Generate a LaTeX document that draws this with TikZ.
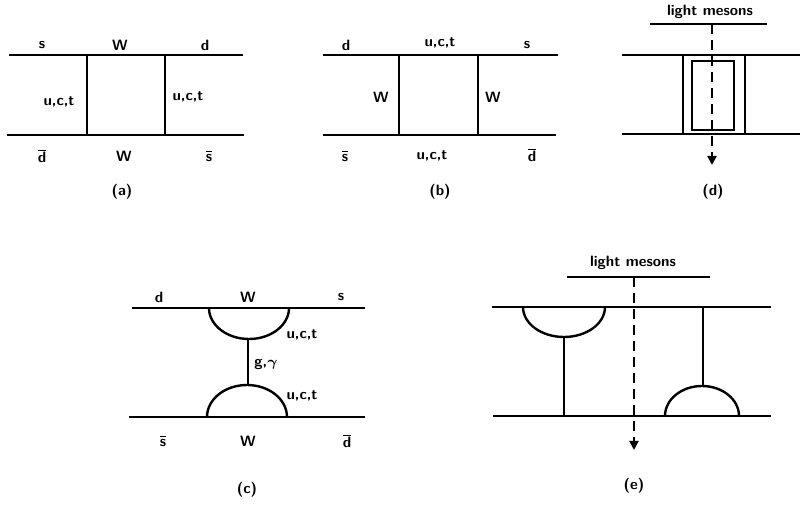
\documentclass[tikz,border=0pt]{standalone}
\usepackage{tikz}
\usepackage{amsmath}
\usetikzlibrary{arrows.meta, positioning, calc}

\newcommand{\qbar}[1]{$\overline{\mbox{#1}}$}

\begin{document}
\begin{tikzpicture}[x=0.5pt, y=-0.5pt,
    font=\sffamily\bfseries\fontsize{7.5}{9}\selectfont,
    quark/.style={line width=1.2pt},
    prop/.style={line width=0.8pt},
    blob/.style={line width=1.2pt},
    lbl/.style={inner sep=1pt},
    meson/.style={line width=1pt, dashed, dash pattern=on 5pt off 3pt,
      -{Triangle[width=4.5pt, length=4.5pt]}}]
  \useasboundingbox (0,0) rectangle (800,508);

  % (a) box diagram, W exchange
  \coordinate (a-tl) at (9,55);   \coordinate (a-tr) at (243,55);
  \coordinate (a-bl) at (7,135);  \coordinate (a-br) at (244,135);
  \coordinate (a-v1) at (87,55);  \coordinate (a-v2) at (87,135);
  \coordinate (a-v3) at (165,55); \coordinate (a-v4) at (165,135);
  \draw[quark] (a-tl) -- (a-tr);
  \draw[quark] (a-bl) -- (a-br);
  \draw[prop] (a-v1) -- (a-v2);
  \draw[prop, line width=1.1pt] (a-v3) -- (a-v4);
  \node[lbl] (a-s) at (42,45) {s};
  \node[lbl] (a-W1) at (120,45) {W};
  \node[lbl] (a-d) at (205,45) {d};
  \node[lbl] (a-q1) at (59,102) {u,c,t};
  \node[lbl] (a-q2) at (188,97) {u,c,t};
  \node[lbl] (a-db) at (42,156) {\qbar{d}};
  \node[lbl] (a-W2) at (124,156) {W};
  \node[lbl] (a-sb) at (209,156) {\qbar{s}};
  \node[lbl] (a-cap) at (122,192) {(a)};

  % (b) box diagram, quark exchange
  \coordinate (b-tl) at (323,55);  \coordinate (b-tr) at (558,55);
  \coordinate (b-bl) at (323,135); \coordinate (b-br) at (556,135);
  \coordinate (b-v1) at (399,55);  \coordinate (b-v2) at (399,135);
  \coordinate (b-v3) at (478,55);  \coordinate (b-v4) at (478,135);
  \draw[quark] (b-tl) -- (b-tr);
  \draw[quark] (b-bl) -- (b-br);
  \draw[prop] (b-v1) -- (b-v2);
  \draw[prop] (b-v3) -- (b-v4);
  \node[lbl] (b-d) at (346,45) {d};
  \node[lbl] (b-q1) at (440,43) {u,c,t};
  \node[lbl] (b-s) at (527,45) {s};
  \node[lbl] (b-W1) at (381,97) {W};
  \node[lbl] (b-W2) at (493,97) {W};
  \node[lbl] (b-sb) at (345,156) {\qbar{s}};
  \node[lbl] (b-q2) at (432,156) {u,c,t};
  \node[lbl] (b-db) at (532,155) {\qbar{d}};
  \node[lbl] (b-cap) at (440,192) {(b)};

  % (d) light meson cut
  \coordinate (d-tl) at (622,55);  \coordinate (d-tr) at (800,55);
  \coordinate (d-bl) at (622,134); \coordinate (d-br) at (800,134);
  \coordinate (d-v1) at (683,55);  \coordinate (d-v2) at (683,134);
  \coordinate (d-v3) at (745,55);  \coordinate (d-v4) at (745,134);
  \coordinate (d-bar1) at (650,24); \coordinate (d-bar2) at (767,24);
  \coordinate (d-cut1) at (712,24); \coordinate (d-cut2) at (712,165);
  \draw[quark] (d-tl) -- (d-tr);
  \draw[quark] (d-bl) -- (d-br);
  \draw[prop] (d-v1) -- (d-v2);
  \draw[prop] (d-v3) -- (d-v4);
  \draw[blob] (692,61) rectangle (734,130);
  \draw[prop] (d-bar1) -- (d-bar2);
  \draw[meson] (d-cut1) -- (d-cut2);
  \node[lbl] (d-mes) at (710,12) {light mesons};
  \node[lbl] (d-cap) at (713,192) {(d)};

  % (c) penguin-like exchange
  \coordinate (c-tl) at (132,308); \coordinate (c-tr) at (365,308);
  \coordinate (c-bl) at (129,417); \coordinate (c-br) at (365,417);
  \coordinate (c-a1) at (209,308); \coordinate (c-a2) at (207,417);
  \coordinate (c-g1) at (248,339); \coordinate (c-g2) at (248,385);
  \draw[quark] (c-tl) -- (c-tr);
  \draw[quark] (c-bl) -- (c-br);
  \draw[blob] (c-a1) arc[start angle=180, end angle=0, x radius=40, y radius=31];
  \draw[blob] (c-a2) arc[start angle=180, end angle=360, x radius=40, y radius=32];
  \draw[prop] (c-g1) -- (c-g2);
  \node[lbl] (c-d) at (159,297) {d};
  \node[lbl] (c-W1) at (248,297) {W};
  \node[lbl] (c-s) at (341,297) {s};
  \node[lbl] (c-q1) at (302,335) {u,c,t};
  \node[lbl] (c-g) at (266,365) {g,$\boldsymbol{\gamma}$};
  \node[lbl] (c-q2) at (302,396) {u,c,t};
  \node[lbl] (c-sb) at (163,441) {\qbar{s}};
  \node[lbl] (c-W2) at (248,441) {W};
  \node[lbl] (c-db) at (347,441) {\qbar{d}};
  \node[lbl] (c-cap) at (247,490) {(c)};

  % (e) light meson cut between the two halves
  \coordinate (e-tl) at (492,307); \coordinate (e-tr) at (771,307);
  \coordinate (e-bl) at (493,416); \coordinate (e-br) at (771,416);
  \coordinate (e-a1) at (523,307); \coordinate (e-a2) at (665,416);
  \coordinate (e-v1) at (564,337); \coordinate (e-v2) at (564,416);
  \coordinate (e-v3) at (703,307); \coordinate (e-v4) at (703,386);
  \coordinate (e-bar1) at (567,277); \coordinate (e-bar2) at (710,277);
  \coordinate (e-cut1) at (634,277); \coordinate (e-cut2) at (634,450);
  \draw[quark] (e-tl) -- (e-tr);
  \draw[quark] (e-bl) -- (e-br);
  \draw[blob] (e-a1) arc[start angle=180, end angle=0, x radius=41, y radius=30];
  \draw[blob] (e-a2) arc[start angle=180, end angle=360, x radius=37, y radius=30];
  \draw[prop] (e-v1) -- (e-v2);
  \draw[prop] (e-v3) -- (e-v4);
  \draw[prop] (e-bar1) -- (e-bar2);
  \draw[meson] (e-cut1) -- (e-cut2);
  \node[lbl] (e-mes) at (633,263) {light mesons};
  \node[lbl] (e-cap) at (634,486) {(e)};
\end{tikzpicture}
\end{document}
